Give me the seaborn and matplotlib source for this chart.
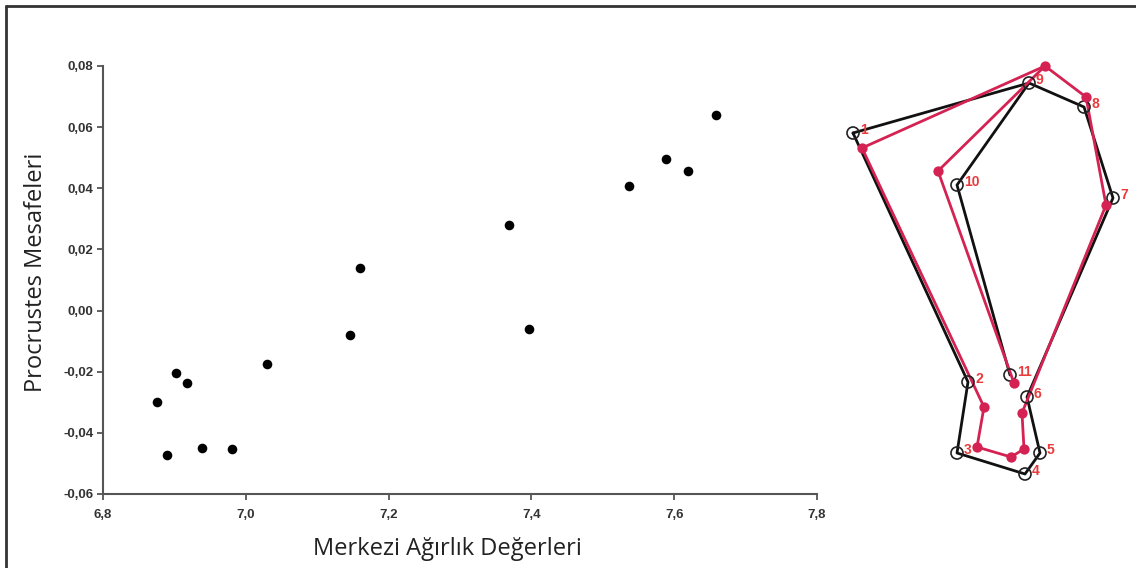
import matplotlib
matplotlib.use("Agg")
import matplotlib.pyplot as plt
import seaborn as sns
import pandas as pd

# scatter: centroid size vs procrustes distance
merkezi = [6.876, 6.889, 6.902, 6.918, 6.939, 6.980, 7.030, 7.146, 7.160,
           7.368, 7.397, 7.537, 7.589, 7.620, 7.659]
procrustes = [-0.0300, -0.0474, -0.0203, -0.0236, -0.0451, -0.0453, -0.0176,
              -0.0080, 0.0138, 0.0280, -0.0061, 0.0406, 0.0497, 0.0455, 0.0640]

x_ticks = [6.8, 7.0, 7.2, 7.4, 7.6, 7.8]
y_ticks = [-0.06, -0.04, -0.02, 0.00, 0.02, 0.04, 0.06, 0.08]

# landmark shapes (image units), landmarks 1..11
lm_ids = list(range(1, 12))
black_x = [853, 968, 957, 1025, 1040, 1027, 1113, 1084, 1029, 957, 1010]
black_y = [133, 382, 453, 474, 453, 397, 198, 107, 83, 185, 375]
red_x = [862, 984, 977, 1011, 1024, 1022, 1106, 1086, 1045, 938, 1014]
red_y = [148, 407, 447, 457, 449, 413, 205, 97, 66, 171, 383]

outline = [1, 2, 3, 4, 5, 6, 7, 8, 9, 1]
inner = [9, 10, 11]

sns.set_theme(style="white")
plt.rcParams["font.family"] = ["Liberation Sans", "DejaVu Sans"]

fig = plt.figure(figsize=(11.36, 5.68), dpi=100)
W, H = 1136, 568

ax = fig.add_axes([103 / W, 1 - 494 / H, (817 - 103) / W, (494 - 66) / H])
df = pd.DataFrame({"x": merkezi, "y": procrustes})
sns.scatterplot(data=df, x="x", y="y", ax=ax, color="black", s=48,
                edgecolor="black", linewidth=0, legend=False)

ax.set_xlim(6.8, 7.8)
ax.set_ylim(-0.06, 0.08)
ax.set_xticks(x_ticks)
ax.set_yticks(y_ticks)
ax.set_xticklabels([f"{v:.1f}".replace(".", ",") for v in x_ticks])
ax.set_yticklabels([f"{v:.2f}".replace(".", ",") for v in y_ticks])
for s in ["top", "right"]:
    ax.spines[s].set_visible(False)
for s in ["left", "bottom"]:
    ax.spines[s].set_color("#555555")
    ax.spines[s].set_linewidth(1.5)
ax.tick_params(axis="both", direction="out", length=4, width=1.3,
               color="#555555", labelsize=9.5, labelcolor="#333333",
               left=True, bottom=True)
ax.tick_params(axis="x", pad=7)
ax.tick_params(axis="y", pad=3)
for lab in ax.get_xticklabels() + ax.get_yticklabels():
    lab.set_fontweight("bold")
ax.set_xlabel("Merkezi Ağırlık Değerleri", fontsize=17, family="Open Sans",
              color="#222222")
ax.set_ylabel("Procrustes Mesafeleri", fontsize=17, family="Open Sans",
              color="#222222")
ax.xaxis.set_label_coords(0.482, -0.100)
ax.yaxis.set_label_coords(-0.077, 0.519)

# landmark diagram
ax2 = fig.add_axes([830 / W, 1 - 500 / H, (W - 830) / W, (500 - 40) / H])
ax2.set_xlim(830, W)
ax2.set_ylim(500, 40)
ax2.axis("off")

lm = pd.DataFrame({"id": lm_ids, "bx": black_x, "by": black_y,
                   "rx": red_x, "ry": red_y}).set_index("id")
for path in (outline, inner):
    ax2.plot(lm.loc[path, "bx"], lm.loc[path, "by"], color="#111111", lw=2, zorder=1)
for path in (outline, inner):
    ax2.plot(lm.loc[path, "rx"], lm.loc[path, "ry"], color="#d42352", lw=2, zorder=2)
sns.scatterplot(data=lm, x="bx", y="by", ax=ax2, s=75, facecolor="none",
                edgecolor="#222222", linewidth=1.2, zorder=3, legend=False)
sns.scatterplot(data=lm, x="rx", y="ry", ax=ax2, s=55, color="#d42352",
                edgecolor="#d42352", linewidth=0, zorder=4, legend=False)
for i in lm_ids:
    ax2.text(lm.loc[i, "bx"] + 7, lm.loc[i, "by"] - 3, str(i), color="#ea3a3c",
             fontsize=10, fontweight="bold", ha="left", va="center", zorder=5)
ax2.set_xlabel("")
ax2.set_ylabel("")

# partial frame (left and top edges)
fig.add_artist(plt.Line2D([5.5 / W, 5.5 / W], [0, 1 - 5.5 / H], transform=fig.transFigure,
                          color="#333333", lw=2))
fig.add_artist(plt.Line2D([5.5 / W, 1], [1 - 5.5 / H, 1 - 5.5 / H], transform=fig.transFigure,
                          color="#333333", lw=2))

fig.savefig("out.png", dpi=100)
